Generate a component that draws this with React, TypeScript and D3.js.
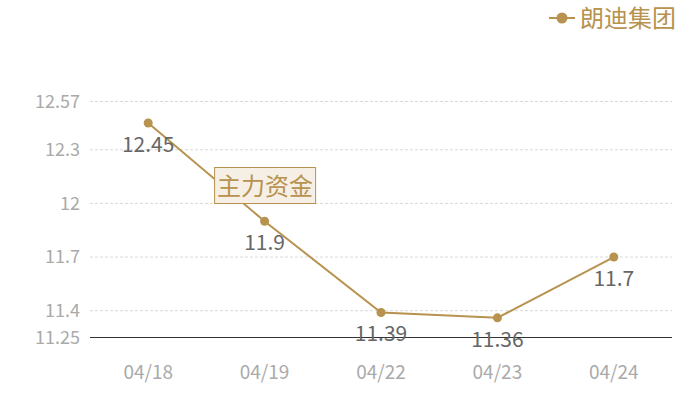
import React from 'react';
import * as d3 from 'd3';

const dates = ['04/18', '04/19', '04/22', '04/23', '04/24'];
const prices = [12.45, 11.9, 11.39, 11.36, 11.7];
const yTicks = [11.25, 11.4, 11.7, 12, 12.3, 12.57];
const seriesName = '朗迪集团';
const markLabel = '主力资金';

const gold = '#b8924f';
const font = '"Noto Sans CJK SC", "Noto Sans", sans-serif';

export default function App() {
  const width = 700;
  const height = 400;

  const x = d3.scalePoint<string>().domain(dates).range([90, 672]).padding(0.5);
  const y = d3.scaleLinear().domain([11.25, 12.57]).range([337.5, 101.5]);

  const line = d3
    .line<number>()
    .x((d, i) => x(dates[i]) as number)
    .y((d) => y(d));

  const mx = x(dates[1]) as number;

  return (
    <svg width={width} height={height} style={{ position: 'absolute', left: 0, top: 0 }} fontFamily={font}>
      {yTicks.map((t) => (
        <g key={t}>
          {t !== 11.25 && (
            <line x1={90} x2={672} y1={y(t)} y2={y(t)} stroke="#d9d9d9" strokeDasharray="3,2" strokeWidth={1} />
          )}
          <text x={80} y={y(t)} dy="0.35em" textAnchor="end" fontSize={18} fill="#aaaaaa">
            {t}
          </text>
        </g>
      ))}
      <line x1={90} x2={672} y1={y(11.25)} y2={y(11.25)} stroke="#333" strokeWidth={1} />
      {dates.map((d) => (
        <text key={d} x={x(d)} y={379} textAnchor="middle" fontSize={19} fill="#aaaaaa">
          {d}
        </text>
      ))}
      <path d={line(prices) || ''} fill="none" stroke={gold} strokeWidth={2} />
      {prices.map((p, i) => (
        <g key={i}>
          <circle cx={x(dates[i])} cy={y(p)} r={4.5} fill={gold} />
          <text x={x(dates[i])} y={y(p) + 29} textAnchor="middle" fontSize={21} fill="#666666">
            {p}
          </text>
        </g>
      ))}
      <g transform={`translate(${mx - 50},167.5)`}>
        <rect x={0} y={0} width={101} height={36} fill="#f5efe6" stroke={gold} strokeWidth={1} />
        <text x={50.5} y={27} textAnchor="middle" fontSize={24} fill={gold}>
          {markLabel}
        </text>
      </g>
      <g transform="translate(549,18)">
        <line x1={0} x2={26} y1={0} y2={0} stroke={gold} strokeWidth={2} />
        <circle cx={13} cy={0} r={5.5} fill={gold} />
        <text x={31} y={0} dy="0.36em" fontSize={24} fill={gold}>
          {seriesName}
        </text>
      </g>
    </svg>
  );
}
